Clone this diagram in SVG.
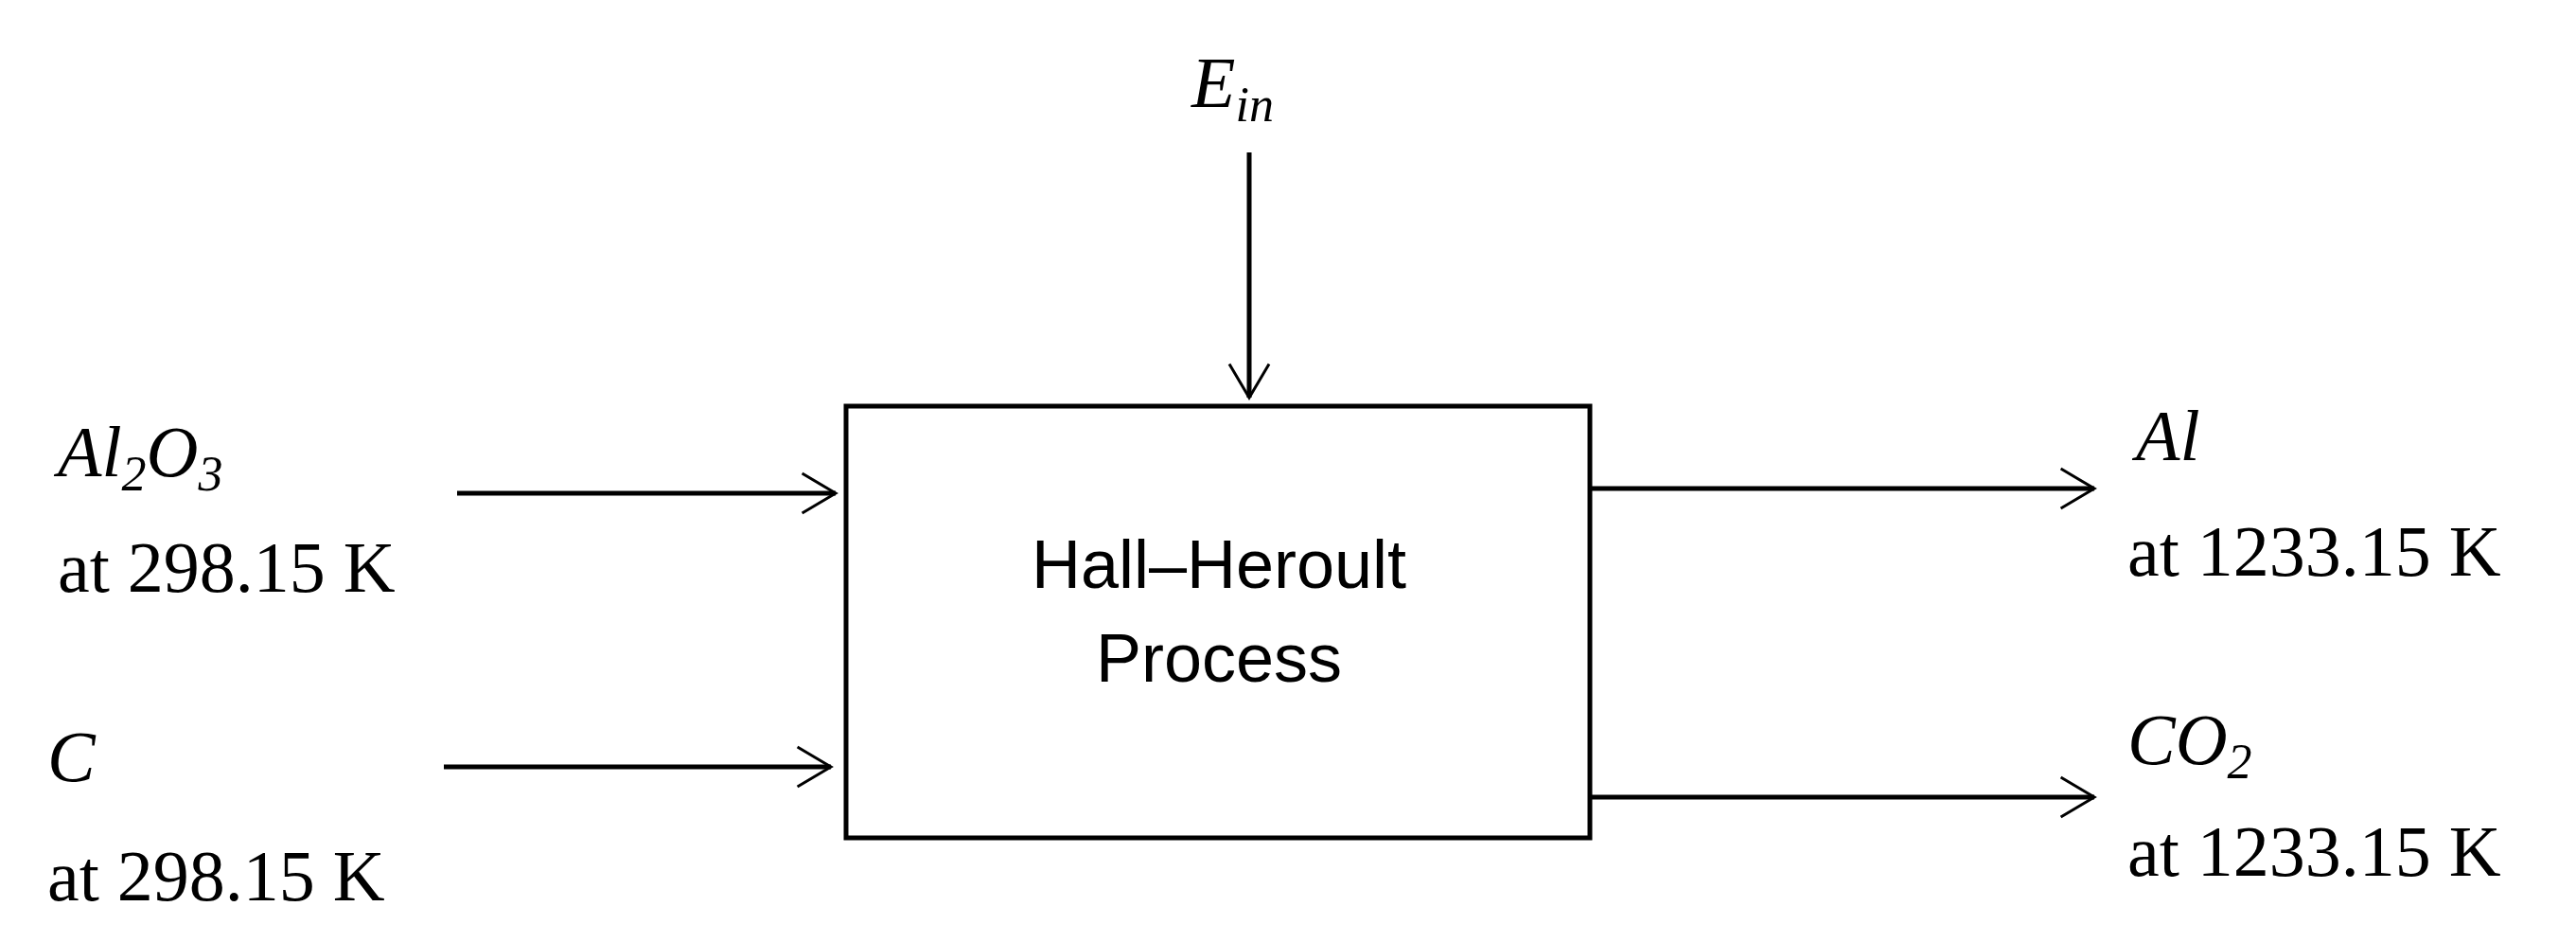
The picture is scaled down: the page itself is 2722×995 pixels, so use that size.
<svg xmlns="http://www.w3.org/2000/svg" width="2722" height="995" viewBox="0 0 2722 995">
<style>
.t{font-family:"Liberation Serif",serif;font-size:76px;fill:#000}
.i{font-style:italic}
.s{font-family:"Liberation Sans",sans-serif;font-size:72px;fill:#000}
.l{stroke:#000;stroke-width:5;fill:none}
</style>
<defs><marker id="a" viewBox="0 0 20 20" refX="19" refY="10" markerWidth="12" markerHeight="12" markerUnits="userSpaceOnUse" orient="auto" overflow="visible"><path d="M-40,-25 L19,10 L-40,45" transform="scale(1)" fill="none" stroke="#000" stroke-width="5"/></marker></defs>
<rect width="2722" height="995" fill="#fff"/>
<g id="process"><rect x="894" y="429" width="786" height="456" class="l"/>
<text class="s" x="1288" y="621" text-anchor="middle">Hall–Heroult</text>
<text class="s" x="1288" y="720" text-anchor="middle">Process</text></g>
<g id="ein"><text class="t i" x="1259" y="113">E<tspan font-size="52" dy="15">in</tspan></text></g>
<g id="al2o3"><text class="t i" x="61" y="503">Al<tspan font-size="52" dy="15">2</tspan><tspan dy="-15">O</tspan><tspan font-size="52" dy="15">3</tspan></text>
<text class="t" x="61" y="625">at 298.15  K</text></g>
<g id="c"><text class="t i" x="50" y="825">C</text><text class="t" x="50" y="951">at 298.15  K</text></g>
<g id="al"><text class="t i" x="2257" y="486">Al</text><text class="t" x="2248" y="608">at 1233.15  K</text></g>
<g id="co2"><text class="t i" x="2248" y="807">CO<tspan font-size="52" dy="15">2</tspan></text><text class="t" x="2248" y="925">at 1233.15  K</text></g>
<g id="connectors">
<path class="l" d="M1320,161 V420" marker-end="url(#a)"/>
<path class="l" d="M483,521 H883" marker-end="url(#a)"/>
<path class="l" d="M469,810 H878" marker-end="url(#a)"/>
<path class="l" d="M1680,516 H2213" marker-end="url(#a)"/>
<path class="l" d="M1680,842 H2213" marker-end="url(#a)"/>
</g>
</svg>
